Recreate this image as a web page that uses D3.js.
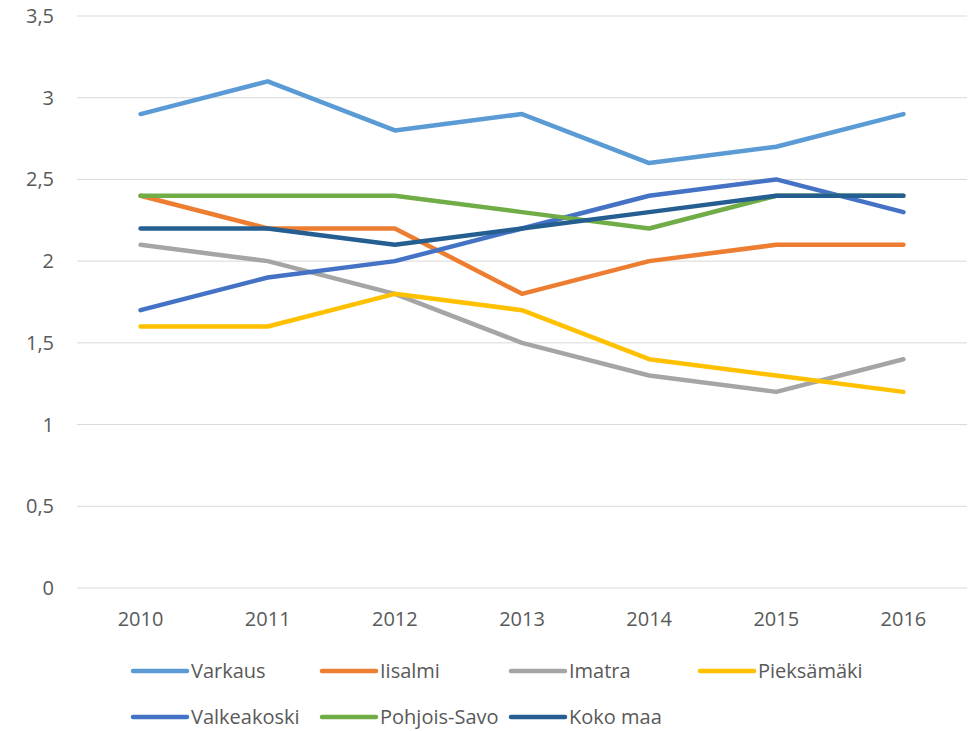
<!DOCTYPE html>
<html>
<head>
<meta charset="utf-8">
<script src="https://cdn.jsdelivr.net/npm/d3@7"></script>
<style>
  body { margin: 0; background: #fff; }
  text { font-family: "Open Sans", "Liberation Sans", sans-serif; fill: #595959; }
</style>
</head>
<body>
<svg width="969" height="731"></svg>
<script>
// data
const years = ['2010', '2011', '2012', '2013', '2014', '2015', '2016'];
const seriesNames = ['Varkaus', 'Iisalmi', 'Imatra', 'Pieksämäki', 'Valkeakoski', 'Pohjois-Savo', 'Koko maa'];
const varkaus = [2.9, 3.1, 2.8, 2.9, 2.6, 2.7, 2.9];
const iisalmi = [2.4, 2.2, 2.2, 1.8, 2.0, 2.1, 2.1];
const imatra = [2.1, 2.0, 1.8, 1.5, 1.3, 1.2, 1.4];
const pieksamaki = [1.6, 1.6, 1.8, 1.7, 1.4, 1.3, 1.2];
const valkeakoski = [1.7, 1.9, 2.0, 2.2, 2.4, 2.5, 2.3];
const pohjoisSavo = [2.4, 2.4, 2.4, 2.3, 2.2, 2.4, 2.4];
const kokoMaa = [2.2, 2.2, 2.1, 2.2, 2.3, 2.4, 2.4];
const yTicks = [0, 0.5, 1, 1.5, 2, 2.5, 3, 3.5];

const colors = ['#5B9BD5', '#ED7D31', '#A5A5A5', '#FFC000', '#4472C4', '#70AD47', '#255E91'];
const allValues = [varkaus, iisalmi, imatra, pieksamaki, valkeakoski, pohjoisSavo, kokoMaa];
const series = seriesNames.map((name, i) => ({ name, values: allValues[i], color: colors[i] }));

const svg = d3.select('svg');

// plot area
const plotLeft = 77, plotRight = 967, plotTop = 16, plotBottom = 588;

const x = d3.scaleBand().domain(years).range([plotLeft, plotRight]);
const y = d3.scaleLinear().domain([0, 3.5]).range([plotBottom, plotTop]);

// gridlines
svg.append('g').selectAll('line').data(yTicks)
  .enter().append('line')
    .attr('x1', plotLeft).attr('x2', plotRight)
    .attr('y1', d => y(d)).attr('y2', d => y(d))
    .attr('stroke', '#d9d9d9')
    .attr('stroke-width', 1);

// y labels
const fmt = d => String(d).replace('.', ',');
svg.append('g').selectAll('text').data(yTicks)
  .enter().append('text')
    .attr('x', 54)
    .attr('y', d => y(d))
    .attr('dy', '0.35em')
    .attr('text-anchor', 'end')
    .style('font-size', '20px')
    .text(fmt);

// x labels
svg.append('g').selectAll('text').data(years)
  .enter().append('text')
    .attr('x', d => x(d) + x.bandwidth() / 2)
    .attr('y', 626)
    .attr('text-anchor', 'middle')
    .style('font-size', '20px')
    .text(d => d);

// lines
const line = d3.line()
  .x((d, i) => x(years[i]) + x.bandwidth() / 2)
  .y(d => y(d));

svg.append('g').selectAll('path').data(series)
  .enter().append('path')
    .attr('d', d => line(d.values))
    .attr('fill', 'none')
    .attr('stroke', d => d.color)
    .attr('stroke-width', 4.5)
    .attr('stroke-linecap', 'round')
    .attr('stroke-linejoin', 'round');

// legend: 4 per row
const legend = svg.append('g').selectAll('g').data(series)
  .enter().append('g')
    .attr('transform', (d, i) => `translate(${133 + (i % 4) * 189},${671 + Math.floor(i / 4) * 46})`);

legend.append('line')
  .attr('x1', 0).attr('x2', 54)
  .attr('stroke', d => d.color)
  .attr('stroke-width', 4.5)
  .attr('stroke-linecap', 'round');

legend.append('text')
  .attr('x', 58)
  .attr('dy', '0.35em')
  .style('font-size', '20px')
  .text(d => d.name);
</script>
</body>
</html>
